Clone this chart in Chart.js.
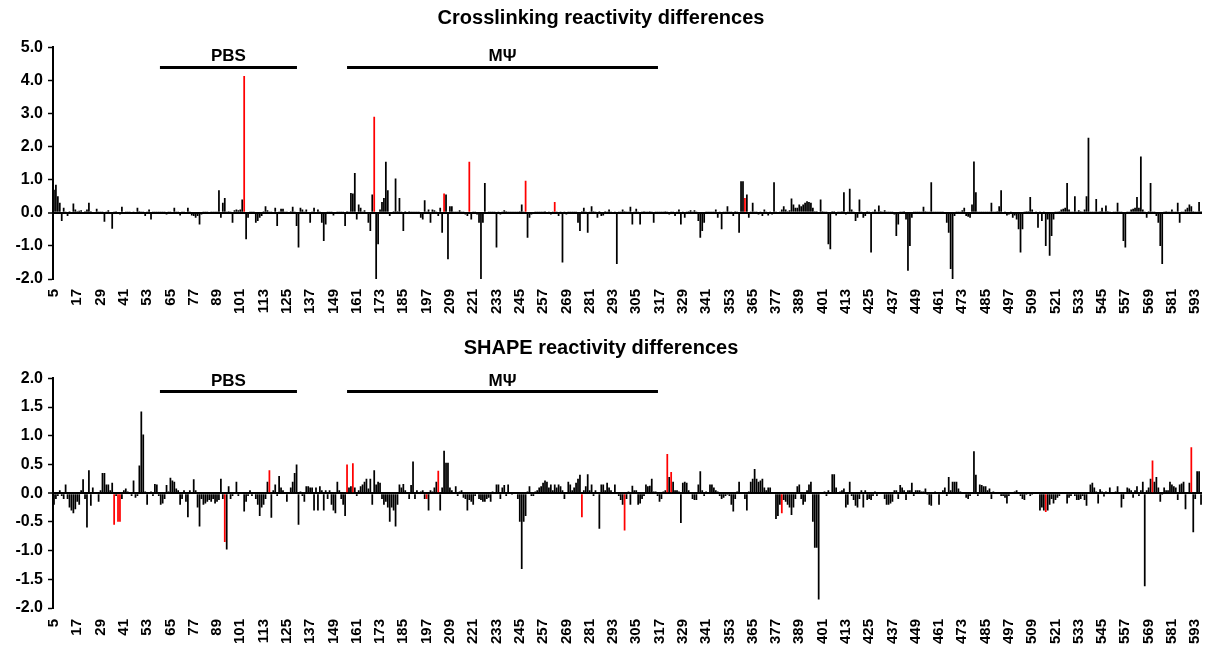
<!DOCTYPE html>
<html>
<head>
<meta charset="utf-8">
<script src="https://cdn.jsdelivr.net/npm/chart.js@4.4.1/dist/chart.umd.min.js"></script>
<style>
  html, body { margin: 0; padding: 0; background: #fff; }
  .panel { position: absolute; left: 0; width: 1208px; height: 324px; }
  #p1 { top: 0; }
  #p2 { top: 324px; }
</style>
</head>
<body>
<div class="panel" id="p1"><canvas id="crossChart"></canvas></div>
<div class="panel" id="p2"><canvas id="shapeChart"></canvas></div>
<script>
// nucleotide positions start at 5, one value per position (5..596)
const firstPos = 5;

// Crosslinking reactivity differences, rows of 12 starting at 5, 17, 29 ...
const crossValues = [
  0.7, 0.85, 0.5, 0.3, -0.25, 0.15, 0.02, -0.1, 0.05, 0.03, 0.28, 0.1,
  0.05, 0.06, 0.08, -0.03, 0.05, 0.1, 0.3, 0.05, 0.03, -0.02, 0.12, 0.02,
  0.02, 0.01, -0.27, 0.02, 0.08, 0.03, -0.48, 0.02, 0.05, 0.03, -0.05, 0.18,
  0.03, 0.02, 0.01, 0.02, -0.03, 0.02, 0.03, 0.15, 0.05, 0.02, 0.01, -0.1,
  0.02, 0.1, -0.2, 0.02, 0.01, 0.02, 0.01, 0.02, 0.01, 0.02, -0.05, 0.02,
  0.01, 0.03, 0.15, 0.02, 0.01, -0.08, 0.02, 0.01, 0.03, 0.15, 0.02, -0.08,
  -0.1, -0.15, -0.1, -0.35, -0.05, 0.02, 0.01, 0.02, -0.03, 0.01, 0.02, 0.01,
  0.02, 0.68, -0.15, 0.3, 0.45, 0.02, 0.05, 0.01, -0.3, 0.08, 0.1, 0.08,
  0.1, 0.4, 4.13, -0.8, -0.15, 0.02, 0.01, 0.02, -0.3, -0.25, -0.15, -0.1,
  0.05, 0.2, 0.08, 0.02, 0.01, 0.03, 0.15, -0.4, 0.02, 0.12, 0.12, 0.02,
  0.01, 0.03, 0.05, 0.18, 0.02, -0.4, -1.05, 0.15, 0.1, 0.02, 0.1, 0.03,
  -0.3, 0.02, 0.15, 0.03, 0.1, 0.02, -0.3, -0.85, -0.35, 0.02, 0.01, 0.02,
  -0.08, 0.03, 0.01, 0.02, 0.01, 0.02, -0.4, 0.05, 0.02, 0.6, 0.58, 1.2,
  -0.2, 0.25, 0.15, 0.02, 0.08, 0.03, -0.3, -0.55, 0.55, 2.9, -2.0, -0.95,
  0.1, 0.33, 0.45, 1.54, 0.68, -0.1, 0.03, 0.05, 1.04, 0.05, 0.45, 0.02,
  -0.55, 0.05, 0.03, 0.05, 0.04, 0.02, 0.01, 0.02, 0.01, -0.15, -0.2, 0.38,
  0.02, 0.1, -0.3, 0.1, 0.08, 0.02, -0.1, 0.15, -0.6, 0.58, 0.55, -1.4,
  0.2, 0.2, 0.02, 0.01, 0.02, 0.08, 0.01, 0.02, -0.05, -0.1, 1.54, -0.2,
  0.02, 0.01, -0.05, -0.3, -2.0, -0.3, 0.9, 0.03, 0.02, 0.01, 0.02, 0.01,
  -1.05, 0.02, -0.05, 0.02, 0.08, 0.05, 0.01, 0.02, 0.01, 0.02, 0.01, 0.02,
  0.05, 0.25, 0.02, 0.97, -0.75, -0.15, -0.05, -0.03, 0.01, 0.02, 0.01, 0.02,
  0.01, 0.05, -0.03, 0.04, -0.05, 0.02, 0.33, 0.01, -0.1, 0.02, -1.5, 0.01,
  -0.05, 0.02, 0.01, 0.02, 0.01, 0.02, -0.3, -0.55, 0.05, 0.15, 0.02, -0.6,
  0.02, 0.2, 0.05, 0.01, -0.15, 0.05, -0.1, -0.08, 0.05, 0.02, 0.1, 0.01,
  0.03, 0.02, -1.55, 0.01, 0.02, 0.1, 0.05, 0.02, 0.01, 0.18, -0.35, 0.02,
  0.12, 0.02, -0.35, 0.01, 0.05, 0.02, 0.01, 0.05, 0.02, -0.3, 0.01, 0.02,
  0.01, 0.02, 0.01, 0.05, 0.01, -0.05, 0.02, 0.01, -0.1, 0.02, 0.1, -0.35,
  0.02, -0.15, 0.01, 0.05, 0.08, 0.02, 0.08, 0.01, -0.25, -0.75, -0.55, -0.3,
  0.02, 0.01, 0.02, 0.01, 0.02, 0.1, -0.15, 0.02, -0.5, 0.01, 0.02, 0.2,
  0.01, 0.02, -0.1, 0.05, 0.02, -0.6, 0.95, 0.95, 0.45, 0.55, -0.15, 0.02,
  0.3, 0.01, 0.02, -0.05, 0.01, -0.1, 0.1, 0.02, -0.08, 0.01, -0.05, 0.92,
  0.02, 0.03, 0.01, 0.1, 0.2, 0.1, 0.05, 0.08, 0.43, 0.25, 0.15, 0.15,
  0.25, 0.2, 0.25, 0.3, 0.35, 0.33, 0.3, 0.15, 0.05, 0.05, 0.03, 0.4,
  0.05, 0.02, 0.01, -0.95, -1.1, 0.05, 0.05, -0.08, 0.01, 0.02, 0.05, 0.62,
  -0.05, 0.02, 0.73, 0.1, 0.02, -0.25, -0.15, 0.4, 0.02, -0.15, -0.1, 0.05,
  0.02, -1.2, 0.01, 0.1, 0.02, 0.22, 0.05, 0.01, 0.08, 0.02, 0.01, 0.02,
  0.01, -0.05, -0.7, -0.35, 0.01, 0.02, 0.05, -0.2, -1.75, -1.0, -0.15, 0.01,
  0.02, 0.01, 0.02, 0.01, 0.18, 0.05, 0.01, 0.02, 0.92, 0.01, 0.02, 0.01,
  0.02, 0.01, 0.02, 0.03, -0.3, -0.6, -1.7, -2.0, -0.1, 0.01, 0.02, 0.01,
  0.08, 0.15, -0.1, -0.12, -0.15, 0.25, 1.55, 0.62, 0.02, 0.01, 0.02, 0.01,
  0.02, 0.01, 0.02, 0.3, 0.01, 0.02, 0.05, 0.2, 0.68, 0.03, 0.02, -0.08,
  -0.05, 0.02, -0.15, -0.08, -0.2, -0.5, -1.2, -0.5, 0.02, 0.05, 0.05, 0.48,
  0.1, 0.03, 0.02, -0.45, 0.01, -0.25, 0.02, -1.0, -0.2, -1.3, -0.7, -0.2,
  0.02, 0.01, 0.05, 0.1, 0.12, 0.15, 0.9, 0.1, 0.02, 0.01, 0.5, 0.02,
  0.08, 0.05, 0.01, 0.1, 0.5, 2.27, 0.02, 0.01, 0.02, 0.42, 0.02, 0.05,
  0.15, 0.01, 0.22, 0.05, 0.02, 0.03, 0.01, 0.02, 0.3, 0.01, 0.02, -0.85,
  -1.05, 0.01, 0.02, 0.1, 0.12, 0.15, 0.48, 0.15, 1.7, 0.1, 0.02, -0.15,
  0.05, 0.9, 0.02, 0.01, -0.1, -0.3, -1.0, -1.55, 0.02, 0.05, 0.01, 0.02,
  0.1, 0.02, 0.01, 0.3, -0.3, 0.02, 0.01, 0.1, 0.15, 0.25, 0.2, 0.05,
  0.02, 0.01, 0.33, 0.05
];

// SHAPE reactivity differences, same positions
const shapeValues = [
  -0.2, -0.1, -0.05, 0.05, -0.05, -0.1, 0.15, -0.1, -0.25, -0.3, -0.35, -0.28,
  -0.15, -0.2, 0.05, 0.24, -0.1, -0.6, 0.4, -0.22, 0.1, 0.02, 0.01, -0.15,
  0.05, 0.35, 0.35, 0.15, 0.15, 0.05, 0.18, -0.55, -0.05, -0.5, -0.5, -0.1,
  0.05, 0.08, 0.03, 0.02, -0.05, 0.22, -0.08, -0.05, 0.48, 1.42, 1.02, 0.03,
  -0.2, 0.02, 0.03, -0.05, 0.16, 0.15, -0.05, -0.2, -0.18, -0.1, 0.14, 0.03,
  0.27, 0.22, 0.2, 0.08, 0.05, -0.2, -0.1, 0.05, -0.15, -0.42, 0.05, 0.02,
  0.24, 0.05, -0.25, -0.58, -0.1, -0.2, -0.18, -0.15, -0.12, -0.15, -0.1, -0.18,
  -0.15, -0.12, 0.25, -0.1, -0.85, -0.98, 0.12, -0.1, -0.05, 0.02, 0.2, -0.05,
  0.02, -0.02, -0.32, -0.15, -0.05, 0.05, -0.05, 0.02, -0.1, -0.2, -0.4, -0.25,
  -0.2, -0.1, 0.2, 0.4, -0.43, 0.05, 0.15, -0.05, 0.3, 0.1, 0.05, 0.02,
  -0.15, 0.02, 0.1, 0.2, 0.35, 0.5, -0.55, 0.03, -0.05, -0.15, 0.12, 0.12,
  0.1, 0.1, -0.3, 0.1, -0.3, 0.12, 0.05, -0.3, 0.05, -0.1, 0.05, -0.2,
  -0.3, -0.35, 0.2, 0.05, -0.1, -0.2, -0.4, 0.5, 0.1, 0.12, 0.52, 0.1,
  -0.05, 0.05, 0.12, 0.15, 0.2, 0.25, 0.08, 0.25, -0.2, 0.4, 0.15, 0.2,
  0.18, -0.1, -0.2, -0.15, -0.25, -0.5, -0.25, -0.3, -0.58, -0.2, 0.15, 0.1,
  0.16, 0.05, 0.02, -0.1, 0.14, 0.55, -0.1, 0.05, 0.02, 0.03, 0.05, -0.1,
  -0.1, -0.3, 0.05, 0.03, 0.1, 0.2, 0.39, -0.3, 0.1, 0.74, 0.53, 0.53,
  0.1, 0.05, 0.02, 0.12, -0.05, 0.03, 0.05, -0.08, -0.1, -0.3, -0.12, -0.15,
  -0.2, -0.05, 0.02, -0.1, -0.12, -0.15, -0.15, -0.1, -0.08, -0.15, 0.03, 0.02,
  0.15, 0.15, -0.1, 0.1, 0.14, -0.05, 0.15, 0.02, -0.03, 0.02, 0.01, -0.1,
  -0.5, -1.32, -0.5, -0.4, 0.03, 0.12, -0.05, -0.05, 0.03, 0.05, 0.1, 0.12,
  0.18, 0.22, 0.2, 0.1, 0.15, 0.05, 0.15, 0.1, 0.15, 0.12, 0.05, -0.1,
  0.02, 0.2, 0.15, 0.05, 0.1, 0.18, 0.25, 0.32, -0.42, 0.05, 0.12, 0.33,
  0.05, 0.15, -0.05, 0.05, 0.02, -0.62, 0.15, 0.15, 0.05, 0.18, 0.1, 0.05,
  0.02, 0.15, 0.02, -0.05, -0.12, -0.2, -0.65, -0.1, 0.03, -0.2, 0.13, 0.05,
  0.05, -0.2, -0.18, -0.1, -0.05, 0.15, 0.12, 0.13, 0.25, 0.03, 0.03, -0.05,
  -0.15, -0.1, 0.03, 0.05, 0.68, 0.28, 0.37, 0.2, 0.05, 0.05, 0.03, -0.52,
  0.18, 0.2, 0.18, 0.05, 0.02, -0.1, -0.12, -0.12, 0.15, 0.38, 0.05, -0.05,
  0.03, 0.02, 0.15, 0.15, 0.1, 0.05, 0.03, -0.05, -0.1, -0.08, -0.05, -0.03,
  -0.05, -0.2, -0.32, -0.1, 0.03, 0.2, 0.02, 0.01, -0.1, -0.3, 0.03, 0.2,
  0.25, 0.42, 0.25, 0.2, 0.22, 0.25, 0.1, 0.05, 0.1, 0.1, 0.02, 0.02,
  -0.45, -0.4, -0.2, -0.35, -0.12, -0.15, -0.2, -0.25, -0.38, -0.25, -0.1, 0.12,
  0.15, -0.1, -0.2, -0.15, 0.05, 0.15, 0.2, -0.5, -0.95, -0.95, -1.85, 0.02,
  0.02, 0.03, -0.05, 0.05, 0.02, 0.33, 0.33, 0.1, 0.02, 0.03, 0.05, 0.08,
  -0.25, -0.2, 0.2, -0.05, -0.12, -0.22, -0.25, -0.1, 0.05, -0.25, 0.05, -0.12,
  -0.1, -0.12, -0.05, 0.03, -0.05, 0.02, 0.02, 0.01, -0.1, -0.2, -0.2, -0.18,
  -0.15, 0.05, 0.05, -0.1, 0.14, 0.1, 0.05, -0.12, 0.05, 0.05, 0.18, -0.05,
  0.05, 0.05, 0.05, 0.03, 0.03, 0.08, -0.03, -0.2, -0.22, 0.02, 0.03, 0.01,
  -0.2, 0.02, 0.05, 0.1, -0.05, 0.28, 0.05, 0.2, 0.2, 0.2, 0.08, 0.03,
  0.02, -0.02, -0.08, -0.1, -0.05, 0.02, 0.73, 0.32, -0.05, 0.15, 0.14, 0.12,
  0.12, 0.05, 0.08, -0.1, 0.03, 0.02, 0.01, 0.02, -0.05, -0.05, -0.08, -0.18,
  -0.05, 0.01, 0.02, 0.03, 0.05, 0.02, -0.05, -0.1, -0.12, -0.03, 0.02, -0.05,
  -0.03, 0.02, 0.02, 0.02, -0.3, -0.25, -0.3, -0.33, -0.3, -0.2, -0.1, -0.18,
  -0.12, -0.08, -0.05, 0.02, 0.02, -0.02, -0.18, -0.08, -0.05, -0.02, -0.05, -0.12,
  -0.12, -0.1, -0.05, -0.12, -0.22, 0.02, 0.15, 0.18, 0.1, 0.03, -0.18, 0.07,
  0.03, -0.06, 0.03, 0.02, 0.1, 0.02, 0.02, 0.03, 0.12, 0.02, -0.25, -0.1,
  0.02, 0.1, 0.08, 0.05, -0.08, 0.05, 0.12, -0.05, 0.05, 0.2, -1.62, 0.05,
  0.1, 0.25, 0.57, 0.2, 0.28, 0.1, -0.15, -0.03, 0.1, 0.05, 0.05, 0.2,
  0.15, 0.12, 0.1, -0.12, 0.15, 0.17, 0.2, -0.28, 0.02, 0.18, 0.8, -0.68,
  -0.1, 0.38, 0.38, -0.2
];

// positions drawn in red
const crossRed = [103, 170, 206, 219, 248, 263, 361];
const shapeRed = [36, 38, 39, 93, 116, 156, 159, 197, 203, 277, 299, 321, 323, 380, 516, 571, 591];

// annotated stretches above the bars
const regionNames = ['PBS', 'MΨ'];
const regionFrom = [59.6, 156];
const regionTo = [130.2, 316.2];

const positions = crossValues.map((v, i) => firstPos + i);

const regionPlugin = {
    id: 'regions',
    afterDatasetsDraw(chart, args, opts) {
        const xs = chart.scales.x;
        const yPix = chart.scales.y.getPixelForValue(opts.level);
        const ctx = chart.ctx;
        ctx.save();
        ctx.strokeStyle = '#000';
        ctx.fillStyle = '#000';
        ctx.lineWidth = 3;
        ctx.font = 'bold 17px Arial';
        ctx.textAlign = 'center';
        ctx.textBaseline = 'alphabetic';
        regionNames.forEach((name, i) => {
            const x1 = xs.getPixelForValue(regionFrom[i] - firstPos);
            const x2 = xs.getPixelForValue(regionTo[i] - firstPos);
            ctx.beginPath();
            ctx.moveTo(x1, yPix);
            ctx.lineTo(x2, yPix);
            ctx.stroke();
            ctx.fillText(name, (x1 + x2) / 2, yPix - 6);
        });
        ctx.restore();
    }
};

const newChart = (id, values, reds, cfg) => {
    return new Chart(document.getElementById(id).getContext('2d'), {
        type: 'bar',
        data: {
            labels: positions,
            datasets: [{
                data: values,
                backgroundColor: positions.map(p => reds.includes(p) ? '#ff0000' : '#000000'),
                borderWidth: 0,
                barPercentage: 1.0,
                categoryPercentage: 0.9
            }]
        },
        options: {
            responsive: true,
            maintainAspectRatio: false,
            animation: false,
            layout: { padding: { left: 0, right: 6, top: 0, bottom: 0 } },
            scales: {
                x: {
                    grid: { display: false, drawTicks: false },
                    border: { display: false },
                    afterFit: s => {
                        s.height = cfg.xHeight;
                        s.paddingLeft = 0;
                        s.paddingRight = 0;
                    },
                    ticks: {
                        autoSkip: false,
                        minRotation: 90,
                        maxRotation: 90,
                        padding: cfg.xPad,
                        color: '#000',
                        font: { family: 'Arial', weight: 'bold', size: 15 },
                        callback: (v, i) => i % 12 === 0 ? positions[i] : null
                    }
                },
                y: {
                    min: cfg.min,
                    max: cfg.max,
                    afterFit: s => { s.width = 53; },
                    border: { display: true, color: '#000', width: 2 },
                    grid: {
                        color: c => c.tick && c.tick.value === 0 ? '#000' : 'rgba(0,0,0,0)',
                        lineWidth: c => c.tick && c.tick.value === 0 ? 2 : 1,
                        tickColor: '#000',
                        tickLength: 5,
                        tickWidth: 1.5
                    },
                    ticks: {
                        stepSize: cfg.step,
                        padding: 5,
                        color: '#000',
                        font: { family: 'Arial', weight: 'bold', size: 16 },
                        callback: v => v.toFixed(1)
                    }
                }
            },
            plugins: {
                legend: { display: false },
                tooltip: { enabled: false },
                title: {
                    display: true,
                    text: cfg.title,
                    color: '#000',
                    font: { family: 'Arial', weight: 'bold', size: 20 },
                    padding: cfg.titlePad
                },
                regions: { level: cfg.level }
            }
        },
        plugins: [regionPlugin]
    });
};

newChart('crossChart', crossValues, crossRed, {
    title: 'Crosslinking reactivity differences',
    titlePad: { top: 6, bottom: 17.3 },
    min: -2, max: 5, step: 1,
    level: 4.39,
    xHeight: 45, xPad: 10
});

newChart('shapeChart', shapeValues, shapeRed, {
    title: 'SHAPE reactivity differences',
    titlePad: { top: 12, bottom: 18.3 },
    min: -2, max: 2, step: 0.5,
    level: 1.77,
    xHeight: 40, xPad: 11
});
</script>
</body>
</html>
